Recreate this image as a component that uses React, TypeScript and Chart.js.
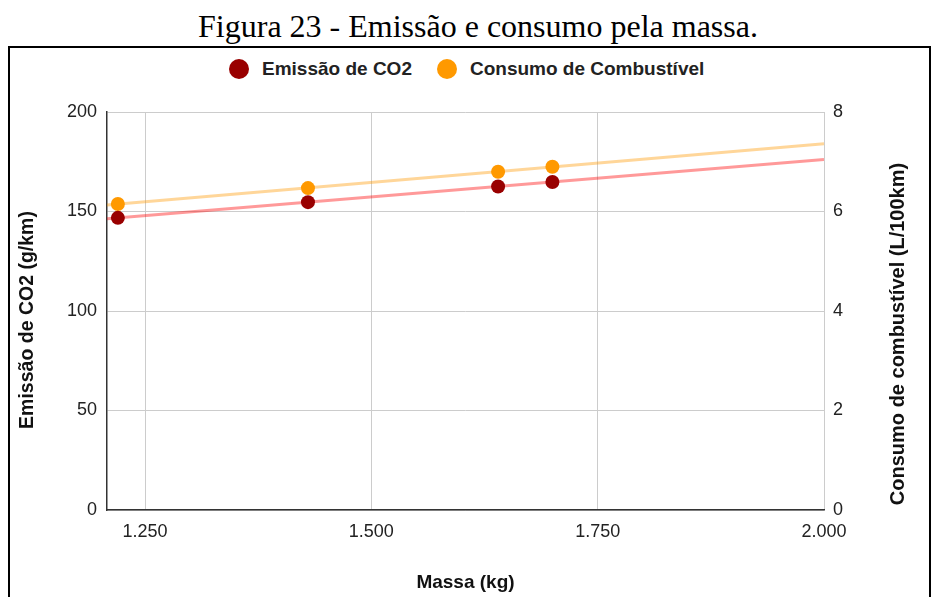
import { useEffect, useRef } from "react";
import { Chart, registerables } from "chart.js";

Chart.register(...registerables);

// Figure caption and series
const TITLE = "Figura 23 - Emissão e consumo pela massa.";
const SERIES_NAMES = ["Emissão de CO2", "Consumo de Combustível"];
const SERIES_COLORS = ["#990000", "#ff9900"];
const TREND_COLORS = ["rgba(255,0,0,0.4)", "rgba(255,153,0,0.4)"];

// Vehicle mass (kg) and measured values
const MASSA = [1220, 1430, 1640, 1700];
const EMISSAO = [146.8, 154.7, 162.6, 164.8]; // g/km
const CONSUMO = [6.15, 6.47, 6.8, 6.9]; // L/100km

// Axes
const X_MIN = 1208;
const X_MAX = 2000;
const X_TICKS = [1250, 1500, 1750, 2000];
const Y_MAX = 200;
const Y_STEP = 50;
const Y1_MAX = 8;
const Y1_STEP = 2;
const X_TITLE = "Massa (kg)";
const Y_TITLE = "Emissão de CO2 (g/km)";
const Y1_TITLE = "Consumo de combustível (L/100km)";

const FONT = "'Liberation Sans', Arial, Helvetica, sans-serif";

// Least-squares line evaluated at the ends of the x range
function trend(xs: number[], ys: number[], from: number, to: number) {
  const n = xs.length;
  const mx = xs.reduce((a, b) => a + b, 0) / n;
  const my = ys.reduce((a, b) => a + b, 0) / n;
  let sxy = 0;
  let sxx = 0;
  for (let i = 0; i < n; i++) {
    sxy += (xs[i] - mx) * (ys[i] - my);
    sxx += (xs[i] - mx) * (xs[i] - mx);
  }
  const b = sxy / sxx;
  const a = my - b * mx;
  return [
    { x: from, y: a + b * from },
    { x: to, y: a + b * to },
  ];
}

function thousands(v: number) {
  const k = Math.floor(v / 1000);
  const r = Math.round(v % 1000);
  return k > 0 ? `${k}.${String(r).padStart(3, "0")}` : String(r);
}

function verticalText(ctx: any, text: string, x: number, y: number, size: number) {
  ctx.save();
  ctx.fillStyle = "#111";
  ctx.font = `bold ${size}px ${FONT}`;
  ctx.textAlign = "center";
  ctx.textBaseline = "middle";
  ctx.translate(x, y);
  ctx.rotate(-Math.PI / 2);
  ctx.fillText(text, 0, 0);
  ctx.restore();
}

// Both value-axis titles read bottom-to-top
const axisTitles = {
  id: "axisTitles",
  afterDraw(chart: any) {
    const { ctx, chartArea } = chart;
    const mid = (chartArea.top + chartArea.bottom) / 2;
    verticalText(ctx, Y_TITLE, 28, mid + 9, 19.5);
    verticalText(ctx, Y1_TITLE, 898, mid + 23, 20);
  },
};

export default function App() {
  const canvasRef = useRef<HTMLCanvasElement | null>(null);

  useEffect(() => {
    const canvas = canvasRef.current;
    if (!canvas) return;
    const tickFont = { family: FONT, size: 18 };
    const chart = new Chart(canvas, {
      type: "scatter",
      data: {
        datasets: [
          {
            type: "line",
            label: "trend-emissao",
            data: trend(MASSA, EMISSAO, X_MIN, X_MAX),
            borderColor: TREND_COLORS[0],
            borderWidth: 3,
            pointRadius: 0,
            yAxisID: "y",
            order: 2,
          },
          {
            type: "line",
            label: "trend-consumo",
            data: trend(MASSA, CONSUMO, X_MIN, X_MAX),
            borderColor: TREND_COLORS[1],
            borderWidth: 3,
            pointRadius: 0,
            yAxisID: "y1",
            order: 2,
          },
          {
            label: SERIES_NAMES[0],
            data: MASSA.map((x, i) => ({ x, y: EMISSAO[i] })),
            backgroundColor: SERIES_COLORS[0],
            borderWidth: 0,
            pointRadius: 7,
            yAxisID: "y",
            order: 1,
          },
          {
            label: SERIES_NAMES[1],
            data: MASSA.map((x, i) => ({ x, y: CONSUMO[i] })),
            backgroundColor: SERIES_COLORS[1],
            borderWidth: 0,
            pointRadius: 7,
            yAxisID: "y1",
            order: 1,
          },
        ],
      },
      options: {
        responsive: false,
        animation: false,
        layout: { padding: { top: 112, left: 0, right: 0, bottom: 0 } },
        plugins: {
          legend: { display: false },
          tooltip: { enabled: false },
        },
        scales: {
          x: {
            type: "linear",
            min: X_MIN,
            max: X_MAX,
            afterBuildTicks: (s: any) => {
              s.ticks = X_TICKS.map((value) => ({ value }));
            },
            afterFit: (s: any) => {
              s.height = 87;
            },
            grid: { color: "#cccccc", lineWidth: 1, drawTicks: false },
            border: { color: "#333333", width: 1.5 },
            ticks: {
              padding: 11,
              color: "#222",
              font: tickFont,
              callback: (v: any) => thousands(Number(v)),
            },
            title: {
              display: true,
              text: X_TITLE,
              color: "#111",
              font: { family: FONT, size: 19, weight: "bold" },
              padding: { top: 0, bottom: 3 },
            },
          },
          y: {
            position: "left",
            min: 0,
            max: Y_MAX,
            afterFit: (s: any) => {
              s.width = 107;
            },
            grid: { color: "#cccccc", lineWidth: 1, drawTicks: false },
            border: { color: "#333333", width: 1.5 },
            ticks: { stepSize: Y_STEP, padding: 10, color: "#222", font: tickFont },
          },
          y1: {
            position: "right",
            min: 0,
            max: Y1_MAX,
            afterFit: (s: any) => {
              s.width = 109;
            },
            grid: { display: false, drawTicks: false },
            border: { display: false },
            ticks: { stepSize: Y1_STEP, padding: 9, color: "#222", font: tickFont },
          },
        },
      },
      plugins: [axisTitles],
    } as any);
    return () => chart.destroy();
  }, []);

  return (
    <div
      style={{
        position: "absolute",
        left: 0,
        top: 0,
        width: 933,
        height: 597,
        overflow: "hidden",
        background: "#fff",
      }}
    >
      <div
        style={{
          position: "absolute",
          left: 478,
          top: 10,
          transform: "translateX(-50%)",
          whiteSpace: "nowrap",
          fontFamily: "'Liberation Serif', 'Times New Roman', serif",
          fontSize: 32,
          lineHeight: "32px",
          color: "#000",
        }}
      >
        {TITLE}
      </div>
      <div
        style={{
          position: "absolute",
          left: 8,
          top: 46,
          width: 923,
          height: 600,
          boxSizing: "border-box",
          border: "2px solid #000",
        }}
      />
      <div
        style={{
          position: "absolute",
          left: 229,
          top: 59,
          height: 20,
          display: "flex",
          alignItems: "center",
          gap: 25,
          whiteSpace: "nowrap",
        }}
      >
        {SERIES_NAMES.map((name, i) => (
          <div key={name} style={{ display: "flex", alignItems: "center" }}>
            <span
              style={{
                width: 20,
                height: 20,
                borderRadius: "50%",
                background: SERIES_COLORS[i],
                display: "inline-block",
              }}
            />
            <span
              style={{
                marginLeft: 13,
                fontFamily: FONT,
                fontWeight: "bold",
                fontSize: 19,
                lineHeight: "20px",
                color: "#222",
              }}
            >
              {name}
            </span>
          </div>
        ))}
      </div>
      <canvas
        ref={canvasRef}
        width={933}
        height={597}
        style={{ position: "absolute", left: 0, top: 0 }}
      />
    </div>
  );
}
